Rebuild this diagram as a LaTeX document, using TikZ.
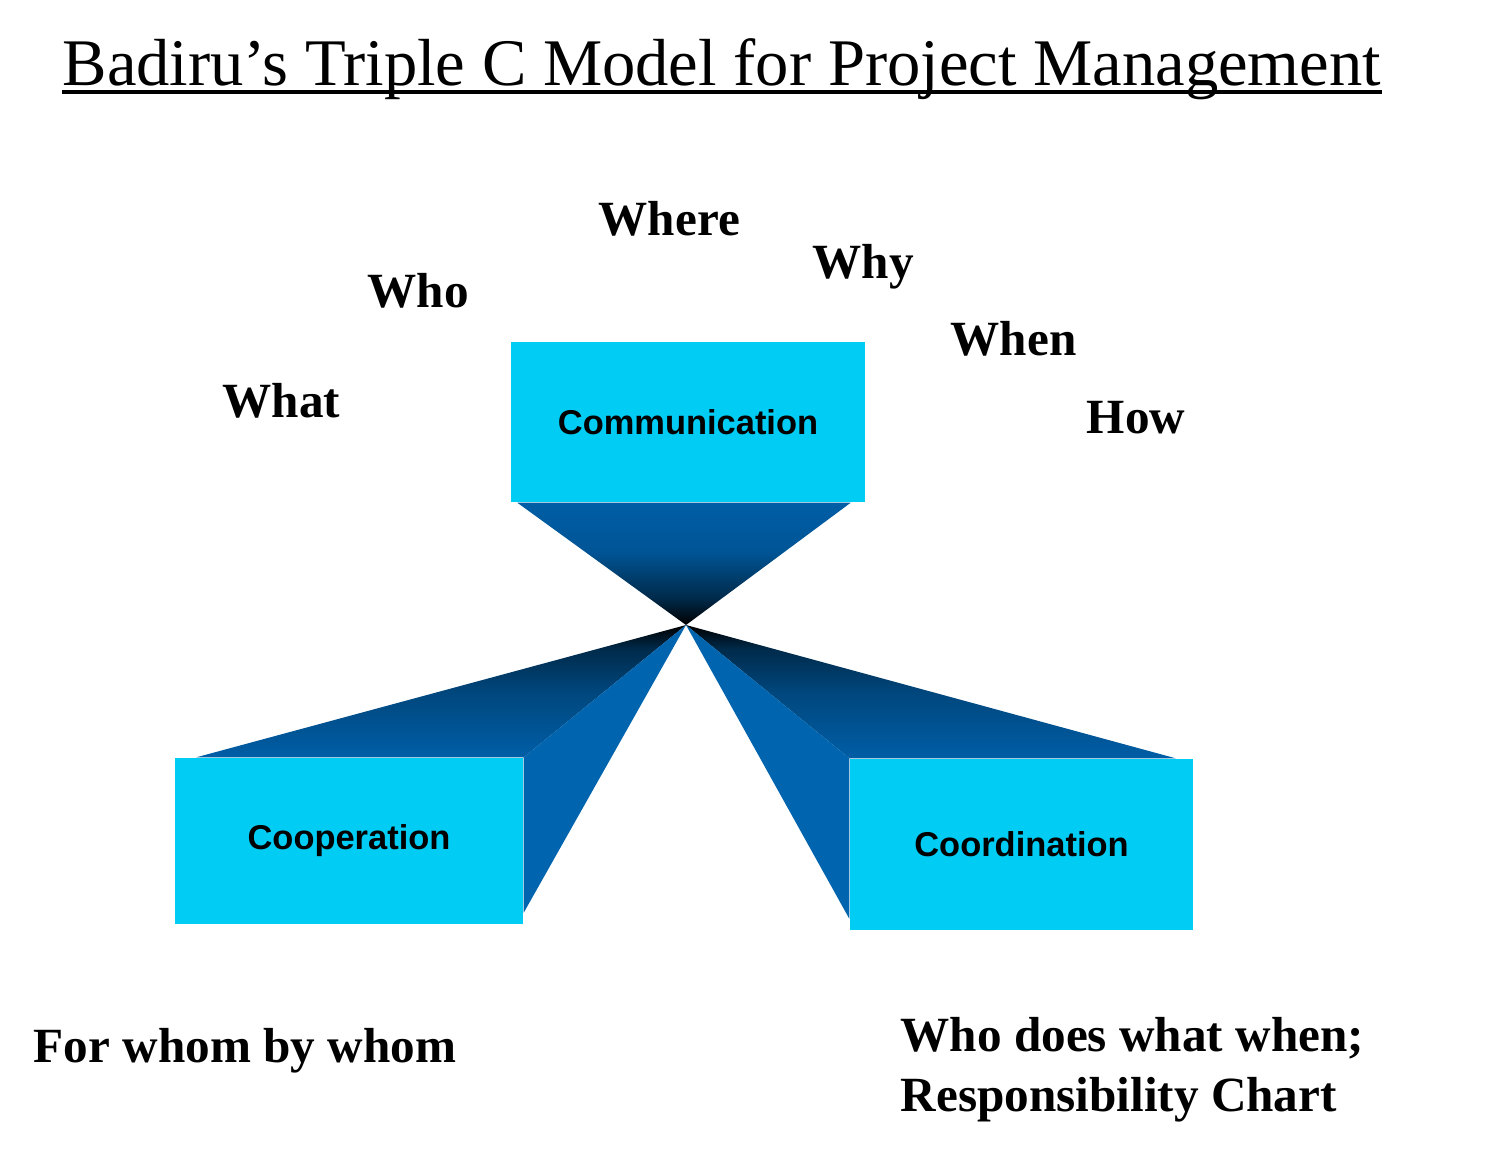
\documentclass[tikz,border=0pt]{standalone}
\usepackage{fontspec}
\setmainfont{Liberation Serif}
\setsansfont{Liberation Sans}
\usetikzlibrary{calc}
\definecolor{boxcyan}{RGB}{0,204,244}
\definecolor{fundark}{RGB}{0,94,166}
\definecolor{funside}{RGB}{0,100,174}
\pgfdeclarelayer{background}
\pgfsetlayers{background,main}
\pgfdeclareverticalshading{tobottom}{100bp}{color(0bp)=(black); color(25bp)=(black); color(36bp)=(fundark!45!black); color(55bp)=(fundark!90!black); color(75bp)=(fundark); color(100bp)=(fundark)}
\pgfdeclareverticalshading{totop}{100bp}{color(0bp)=(fundark); color(25bp)=(fundark); color(50bp)=(fundark!75!black); color(66bp)=(fundark!45!black); color(75bp)=(black); color(100bp)=(black)}

\begin{document}
\begin{tikzpicture}[
  cbox/.style={rectangle, fill=boxcyan, inner sep=0pt, font=\sffamily\bfseries\fontsize{9.8}{12}\selectfont},
  word/.style={anchor=base west, inner sep=0pt, font=\bfseries\fontsize{14}{16.8}\selectfont},
  topface/.style={shading=totop},
  sideface/.style={fill=funside}
]
  \useasboundingbox (0,0) rectangle (14.96,-11.54);

  \node[anchor=base west, inner sep=0pt, font=\fontsize{18.95}{22}\selectfont] (title) at (0.62,-0.85) {Badiru’s Triple C Model for Project Management};
  \draw[line width=0.9pt] ($(title.base west)+(0,-0.07)$) -- ($(title.base east)+(0,-0.07)$);

  \coordinate (apex) at (6.86,-6.25);

  \node[cbox, minimum width=3.54cm, minimum height=1.6cm]  (comm)  at (6.88,-4.22)   {Communication};
  \node[cbox, minimum width=3.48cm, minimum height=1.66cm] (coop)  at (3.49,-8.41)   {Cooperation};
  \node[cbox, minimum width=3.43cm, minimum height=1.71cm] (coord) at (10.215,-8.445) {Coordination};

  % Funnels into the apex
  \begin{pgfonlayer}{background}
  \shade[shading=tobottom] ($(comm.south west)+(0.07,0)$) -- ($(comm.south east)+(-0.15,0)$) -- (apex) -- cycle;
  \shade[topface] ($(coop.north west)+(0.22,0)$) -- (apex) -- (coop.north east) -- cycle;
  \fill[sideface] (coop.north east) -- (apex) -- ($(coop.south east)+(0,0.12)$) -- cycle;
  \shade[topface] (coord.north west) -- (apex) -- ($(coord.north east)+(-0.18,0)$) -- cycle;
  \fill[sideface] (coord.north west) -- (apex) -- ($(coord.south west)+(0,0.12)$) -- cycle;
  \end{pgfonlayer}

  % Question words
  \node[word] (what)  at (2.22,-4.17)  {What};
  \node[word] (who)   at (3.67,-3.07)  {Who};
  \node[word] (where) at (5.98,-2.35)  {Where};
  \node[word] (why)   at (8.12,-2.78)  {Why};
  \node[word] (when)  at (9.50,-3.55)  {When};
  \node[word] (how)   at (10.86,-4.33) {How};

  % Bottom annotations
  \node[word] (forwhom) at (0.33,-10.62) {For whom by whom};
  \node[word, align=left] (whodoes) at (9.00,-11.11) {Who does what when;\\Responsibility Chart};
\end{tikzpicture}
\end{document}
